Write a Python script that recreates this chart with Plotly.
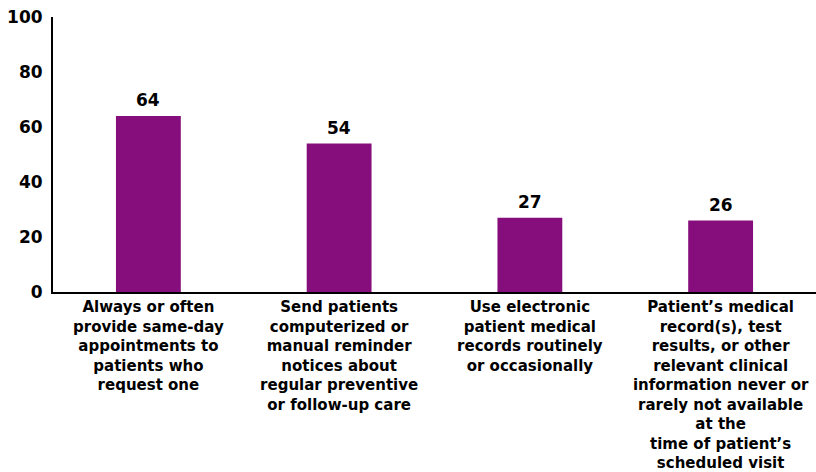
import plotly.graph_objects as go

categories = [
    "Always or often<br>provide same-day<br>appointments to<br>patients who<br>request one",
    "Send patients<br>computerized or<br>manual reminder<br>notices about<br>regular preventive<br>or follow-up care",
    "Use electronic<br>patient medical<br>records routinely<br>or occasionally",
    "Patient’s medical<br>record(s), test<br>results, or other<br>relevant clinical<br>information never or<br>rarely not available<br>at the<br>time of patient’s<br>scheduled visit",
]
values = [64, 54, 27, 26]
y_ticks = [0, 20, 40, 60, 80, 100]

FONT = "DejaVu Sans, Verdana, sans-serif"
BAR_COLOR = "#860E7C"

fig = go.Figure(
    go.Bar(
        x=categories,
        y=values,
        marker=dict(color=BAR_COLOR, line=dict(width=0)),
        width=0.34,
        hoverinfo="skip",
    )
)

for c, v in zip(categories, values):
    fig.add_annotation(
        x=c, y=v, text=f"<b>{v}</b>", showarrow=False,
        yanchor="bottom", yshift=4,
        font=dict(family=FONT, size=17, color="black"),
    )

fig.update_layout(
    width=816, height=472,
    margin=dict(l=53, r=0, t=17, b=180),
    paper_bgcolor="white", plot_bgcolor="white",
    showlegend=False,
    font=dict(family=FONT, color="black"),
)
fig.update_xaxes(
    showline=True, linecolor="black", linewidth=2,
    ticks="", showgrid=False, tickangle=0, automargin=False,
    tickfont=dict(family=FONT, size=15, color="black", weight="bold"),
)
fig.update_yaxes(
    range=[0, 100], tickvals=y_ticks, ticktext=[f"<b>{t}</b>" for t in y_ticks],
    showline=True, linecolor="black", linewidth=2,
    ticks="", showgrid=False, zeroline=False, automargin=False,
    ticklabelstandoff=5,
    tickfont=dict(family=FONT, size=17, color="black"),
)

fig.write_html("out.html")
